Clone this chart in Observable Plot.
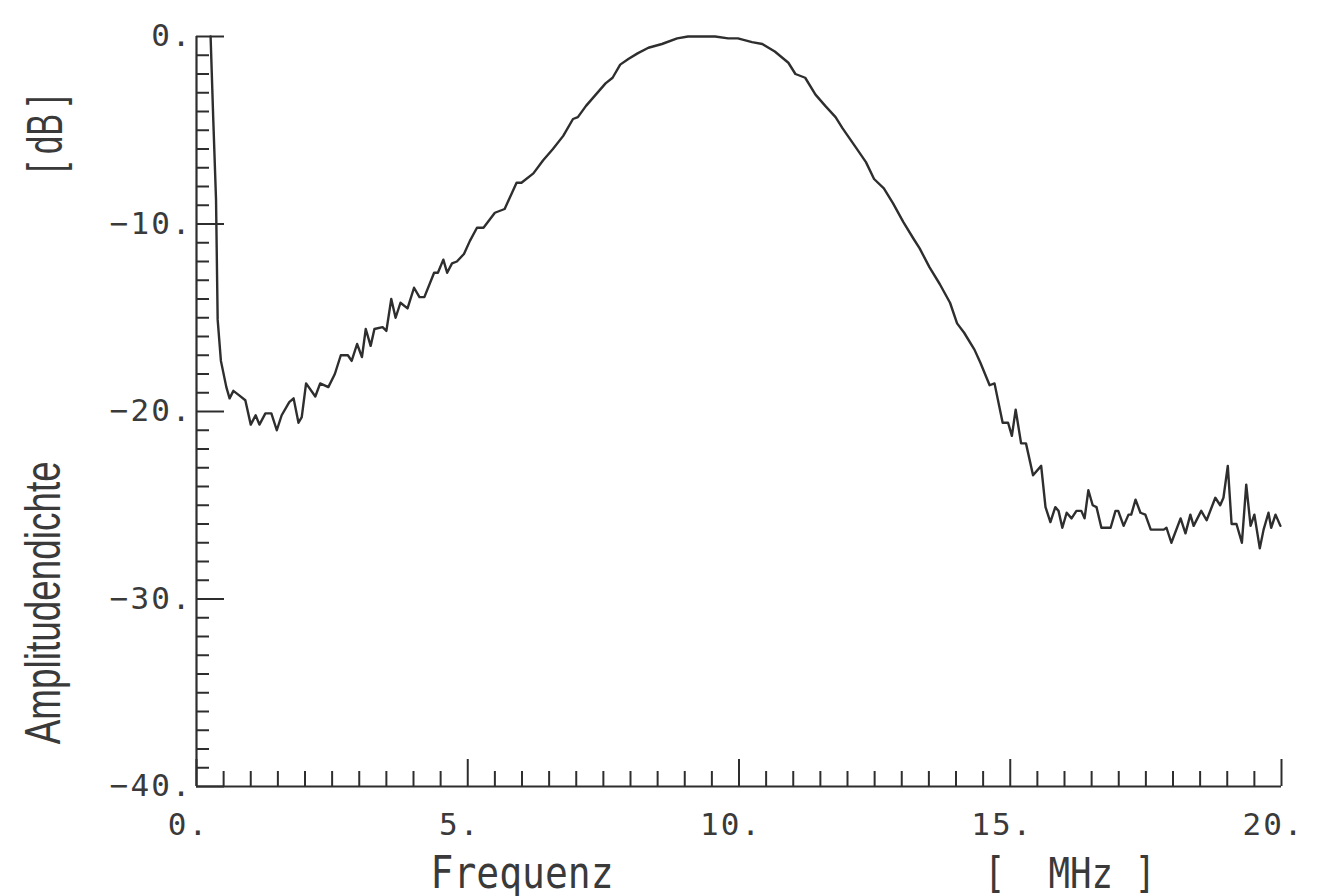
<!DOCTYPE html>
<html><head><meta charset="utf-8">
<script src="https://cdn.jsdelivr.net/npm/d3@7"></script>
<script src="https://cdn.jsdelivr.net/npm/@observablehq/plot@0.6"></script>
<style>body{margin:0;background:#fff}</style>
</head><body><div id="chart"></div>
<script>
// Frequency in MHz, amplitude density in dB
const freq = [0.26,0.31,0.36,0.39,0.45,0.55,0.61,0.68,0.77,0.90,1.00,1.09,1.16,1.27,1.38,1.48,1.57,1.71,1.79,1.88,1.94,2.02,2.19,2.28,2.43,2.55,2.66,2.79,2.86,2.96,3.05,3.12,3.21,3.28,3.43,3.50,3.59,3.67,3.76,3.89,4.01,4.11,4.20,4.38,4.45,4.55,4.62,4.71,4.80,4.93,5.04,5.17,5.29,5.50,5.68,5.90,5.99,6.21,6.39,6.57,6.76,6.94,7.03,7.18,7.36,7.54,7.67,7.81,7.96,8.13,8.33,8.58,8.86,9.06,9.32,9.56,9.80,9.98,10.24,10.43,10.66,10.91,11.04,11.22,11.41,11.59,11.78,11.91,12.15,12.34,12.49,12.67,12.84,13.03,13.22,13.33,13.51,13.70,13.89,14.02,14.15,14.34,14.45,14.62,14.71,14.86,14.96,15.03,15.10,15.20,15.29,15.42,15.57,15.65,15.74,15.83,15.89,15.96,16.04,16.13,16.22,16.31,16.37,16.44,16.52,16.59,16.68,16.85,16.94,16.99,17.09,17.18,17.23,17.31,17.40,17.49,17.59,17.83,17.88,17.97,18.14,18.23,18.32,18.38,18.52,18.62,18.78,18.87,18.93,19.01,19.08,19.17,19.27,19.35,19.43,19.50,19.60,19.67,19.76,19.81,19.89,19.98];
const ampl = [0,-4.5,-8.7,-15.1,-17.3,-18.7,-19.3,-18.9,-19.1,-19.4,-20.7,-20.2,-20.7,-20.1,-20.1,-21.0,-20.2,-19.5,-19.3,-20.6,-20.3,-18.5,-19.2,-18.5,-18.7,-18.0,-17.0,-17.0,-17.3,-16.4,-17.1,-15.6,-16.5,-15.6,-15.5,-15.7,-14.0,-15.0,-14.2,-14.5,-13.4,-13.9,-13.9,-12.6,-12.6,-11.9,-12.6,-12.1,-12.0,-11.6,-10.9,-10.2,-10.2,-9.4,-9.2,-7.8,-7.8,-7.3,-6.6,-6.0,-5.3,-4.4,-4.3,-3.7,-3.1,-2.5,-2.2,-1.5,-1.2,-0.9,-0.6,-0.4,-0.1,0.0,0.0,0.0,-0.1,-0.1,-0.3,-0.4,-0.8,-1.4,-2.0,-2.2,-3.1,-3.7,-4.3,-4.9,-5.9,-6.7,-7.6,-8.1,-8.9,-9.9,-10.8,-11.3,-12.3,-13.2,-14.2,-15.3,-15.8,-16.7,-17.4,-18.6,-18.5,-20.6,-20.6,-21.3,-19.9,-21.7,-21.7,-23.4,-22.9,-25.1,-25.9,-25.1,-25.3,-26.2,-25.4,-25.7,-25.3,-25.3,-25.7,-24.2,-25.0,-25.1,-26.2,-26.2,-25.3,-25.3,-26.1,-25.5,-25.5,-24.7,-25.4,-25.5,-26.3,-26.3,-26.2,-27.0,-25.7,-26.5,-25.5,-26.1,-25.3,-25.8,-24.6,-25.0,-24.6,-22.9,-26.0,-26.0,-27.0,-23.9,-26.1,-25.5,-27.3,-26.3,-25.4,-26.2,-25.5,-26.1];

const xTickValues = [0, 5, 10, 15, 20];
const xTickLabels = ["0.", "5.", "10.", "15.", "20."];
const yTickValues = [0, -10, -20, -30, -40];
const yTickLabels = ["0.", "\u221210.", "\u221220.", "\u221230.", "\u221240."];
const xTitle = "Frequenz";
const xUnit = "[  MHz ]";
const yTitle = "Amplitudendichte";
const yUnit = "[ dB ]";

const data = freq.map((f, i) => ({f, a: ampl[i]}));

const W = 1319, H = 896, ML = 196, MR = 38, MT = 36, MB = 110;
const FW = W - ML - MR, FH = H - MT - MB;
const ink = "#2e2e2e";
const textInk = "#3a3a3a";
const xMinor = d3.range(0.5, 20, 0.5).filter(v => v % 5 !== 0);
const yMinor = d3.range(-39, 0, 1).filter(v => v % 10 !== 0);
const mono = "DejaVu Sans Mono, Liberation Mono, monospace";
const narrow = "Liberation Sans Narrow, Liberation Sans, Arial, sans-serif";

const plot = Plot.plot({
  width: W, height: H,
  marginLeft: ML, marginRight: MR, marginTop: MT, marginBottom: MB,
  x: {domain: [0, 20], axis: null},
  y: {domain: [-40, 0], axis: null},
  style: {background: "#fff", color: ink},
  marks: [
    Plot.ruleX(xMinor, {x: d => d, insetTop: FH - 15, stroke: ink, strokeWidth: 2}),
    Plot.ruleX(xTickValues, {x: d => d, insetTop: FH - 27, stroke: ink, strokeWidth: 2}),
    Plot.ruleY(yMinor, {y: d => d, insetRight: FW - 13, stroke: ink, strokeWidth: 2}),
    Plot.ruleY(yTickValues, {y: d => d, insetRight: FW - 28, stroke: ink, strokeWidth: 2}),
    Plot.ruleX([0], {x: d => d, stroke: ink, strokeWidth: 2.2}),
    Plot.ruleY([-40], {y: d => d, stroke: ink, strokeWidth: 2.2}),
    Plot.line(data, {x: "f", y: "a", stroke: ink, strokeWidth: 2.4}),
    Plot.text(xTickValues, {x: d => d, text: (d, i) => xTickLabels[i], frameAnchor: "bottom", lineAnchor: "top", dy: 26, dx: -8, fontSize: 31, fontFamily: mono, fill: textInk, ariaDescription: "xticks"}),
    Plot.text(yTickValues, {y: d => d, text: (d, i) => yTickLabels[i], frameAnchor: "left", textAnchor: "end", lineAnchor: "middle", dx: -4, fontSize: 31, fontFamily: mono, fill: textInk, ariaDescription: "yticks"}),
    Plot.text([xTitle], {x: 6.0, text: d => d, frameAnchor: "bottom", lineAnchor: "bottom", dy: 101, fontSize: 44, fontFamily: mono, fill: textInk, ariaDescription: "xtitle"}),
    Plot.text([xUnit], {x: 16.1, text: d => d, frameAnchor: "bottom", lineAnchor: "bottom", dy: 101, fontSize: 42, fontFamily: mono, fill: textInk, ariaDescription: "xunit"}),
    Plot.text([yTitle], {y: -30.2, text: d => d, frameAnchor: "left", rotate: -90, textAnchor: "middle", lineAnchor: "middle", dx: -153, fontSize: 50, fontFamily: narrow, fill: textInk, ariaDescription: "ytitle"}),
    Plot.text([yUnit], {y: -5.2, text: d => d, frameAnchor: "left", rotate: -90, textAnchor: "middle", lineAnchor: "middle", dx: -151, fontSize: 50, fontFamily: narrow, fill: textInk, ariaDescription: "yunit"})
  ]
});

const setLen = (desc, len) => plot.querySelectorAll(`g[aria-description="${desc}"] text`).forEach(t => {
  t.setAttribute("textLength", len);
  t.setAttribute("lengthAdjust", "spacingAndGlyphs");
});
plot.querySelectorAll('g[aria-description="xticks"] text, g[aria-description="yticks"] text').forEach(t => t.style.letterSpacing = "2px");
setLen("xtitle", 183);
setLen("xunit", 172);
setLen("ytitle", 283);
setLen("yunit", 76);

document.getElementById("chart").appendChild(plot);
</script>
</body></html>
